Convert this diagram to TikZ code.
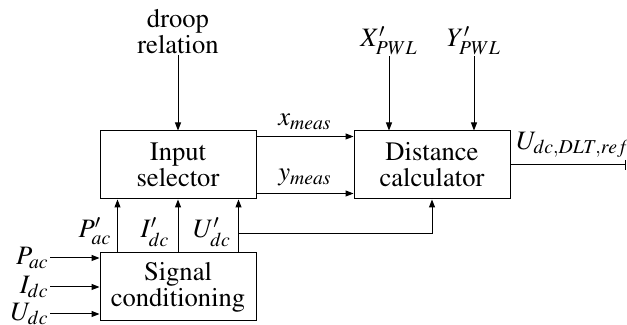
\documentclass[tikz,border=0pt]{standalone}
\usepackage[T1]{fontenc}
\usepackage{mathptmx}
\usetikzlibrary{arrows.meta,positioning}

\begin{document}
\begin{tikzpicture}[
  x=0.5pt, y=-0.5pt,
  font=\fontsize{13.3}{13}\selectfont,
  block/.style={rectangle, draw, line width=0.5pt, minimum width=78pt, minimum height=34pt, align=center, inner sep=1pt},
  lbl/.style={inner sep=0.5pt},
  arr/.style={-{Triangle[length=4pt,width=3pt]}, line width=0.5pt}
]
\useasboundingbox (0,0) rectangle (627,325);
\node[block] (sel)  at (178,165) {Input\\selector};
\node[block] (dist) at (432,165) {Distance\\calculator};
\node[block] (cond) at (178,287) {Signal\\conditioning};

\node[lbl, align=center, anchor=south] (droop) at (178,55) {droop\\relation};
\node[lbl, anchor=base] (xpwl) at (389,47) {$X'_{PWL}$};
\node[lbl, anchor=base] (ypwl) at (474,47) {$Y'_{PWL}$};

\node[lbl, anchor=east] (pac) at (50,258) {$P_{ac}$};
\node[lbl, anchor=east] (idc) at (50,287) {$I_{dc}$};
\node[lbl, anchor=east] (udc) at (50,314) {$U_{dc}$};

\node[lbl, anchor=base] (pacp) at (95,238)  {$P'_{ac}$};
\node[lbl, anchor=base] (idcp) at (155,238) {$I'_{dc}$};
\node[lbl, anchor=base] (udcp) at (212,238) {$U'_{dc}$};

\coordinate (tap) at (238,234);
\coordinate (out) at (626,165);

\draw[arr] (droop) -- (sel);
\draw[arr] (xpwl) -- (xpwl |- dist.north);
\draw[arr] (ypwl) -- (ypwl |- dist.north);
\draw[arr] ([yshift=-3pt]sel.north east) -- node[above]{$x_{meas}$} ([yshift=-3pt]dist.north west);
\draw[arr] ([yshift=3pt]sel.south east) -- node[above]{$y_{meas}$} ([yshift=3pt]dist.south west);
\draw[-{Bar[width=5pt]}, line width=0.5pt] (dist.east) -- node[above, pos=0.54]{$U_{dc,DLT,ref}$} (out);

\draw[arr] (pac) -- (pac -| cond.west);
\draw[arr] (idc) -- (idc -| cond.west);
\draw[arr] (udc) -- (udc -| cond.west);

\draw[arr] ([xshift=9pt]cond.north west) -- ([xshift=9pt]sel.south west);
\draw[arr] (cond.north) -- (sel.south);
\draw[arr] ([xshift=-9pt]cond.north east) -- ([xshift=-9pt]sel.south east);
\draw[arr] (tap) -| (dist.south);
\end{tikzpicture}
\end{document}
